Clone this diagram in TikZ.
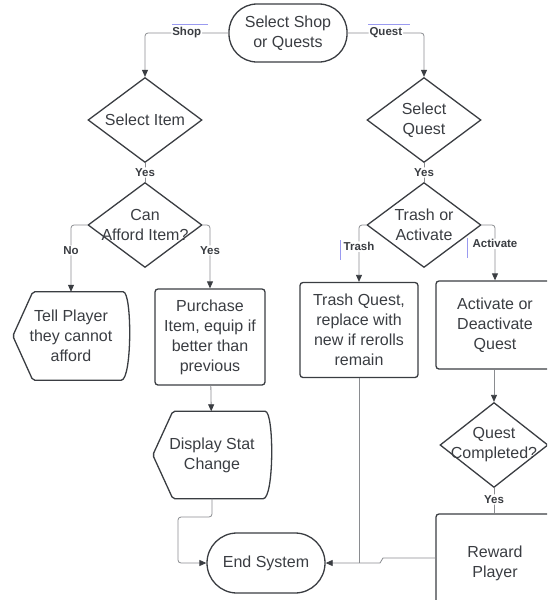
\documentclass[tikz,border=0pt]{standalone}
\usepackage{fontspec}
\setmainfont{Liberation Sans}
\usetikzlibrary{shapes.geometric,arrows.meta}
\usetikzlibrary{positioning}

\definecolor{ink}{HTML}{3A3D42}
\definecolor{wire}{HTML}{8A8C90}
\definecolor{cursor}{HTML}{9A9AF0}

\tikzset{
  every node/.style={text=ink, font=\fontsize{16}{20}\selectfont, align=center},
  terminal/.style={draw=ink, line width=1.3pt, rounded corners=28pt, minimum width=118pt, minimum height=58pt},
  process/.style={draw=ink, line width=1.3pt, rounded corners=3pt, minimum width=116pt, minimum height=94pt},
  decision/.style={draw=ink, line width=1.3pt, diamond, inner sep=0pt, minimum width=114pt, minimum height=85pt},
  shown/.style={minimum width=116pt, minimum height=88pt},
  conn/.style={draw=wire, line width=0.8pt, rounded corners=3pt},
  tip/.style={-{Triangle[length=7pt,width=6pt,color=ink]}},
  lbl/.style={fill=white, font=\bfseries\fontsize{11.5}{13}\selectfont, inner sep=1pt}
}

% outline of a display symbol round a node
\newcommand\dispoutline[1]{%
  \draw[ink, line width=1.3pt, rounded corners=2pt]
    (#1.west) -- ([xshift=20pt]#1.north west) -- ([xshift=-8pt]#1.north east)
    [sharp corners] .. controls ([xshift=3pt]#1.north east) and ([xshift=3pt]#1.south east) ..
    ([xshift=-8pt]#1.south east) [rounded corners=2pt] -- ([xshift=20pt]#1.south west) -- cycle;}

\begin{document}
\begin{tikzpicture}[x=1pt, y=-1pt]
  \clip (0,0) rectangle (547,600);
  \useasboundingbox (0,0) rectangle (547,600);

  % shop side
  \node[terminal] (start) at (288,33) {Select Shop\\or Quests};
  \node[decision, label={center:Select Item}] (selitem) at (145,120) {};
  \node[decision, label={center:Can\\Afford Item?}] (canafford) at (145,225) {};
  \node[shown] (tellplayer) at (71,336) {Tell Player\\they cannot\\afford};
  \dispoutline{tellplayer}
  \node[process, minimum width=110pt, minimum height=96pt] (purchase) at (210,337)
    {Purchase\\Item, equip if\\better than\\previous};
  \node[shown, minimum width=118pt, minimum height=87pt] (display) at (212,455) {Display Stat\\Change};
  \dispoutline{display}
  \node[terminal, minimum height=60pt, rounded corners=30pt] (endsys) at (266,563) {End System};

  % quest side
  \node[decision, label={center:Select\\Quest}] (selquest) at (424,120) {};
  \node[decision, label={center:Trash or\\Activate}] (trashact) at (424,225) {};
  \node[process, minimum width=118pt, minimum height=95pt] (trashq) at (359,330)
    {Trash Quest,\\replace with\\new if rerolls\\remain};
  \node[process, minimum width=118pt, minimum height=88pt] (activate) at (495,325)
    {Activate or\\Deactivate\\Quest};
  \node[decision, minimum width=108pt, minimum height=85pt,
    label={center:Quest\\Completed?}] (questdone) at (494,445) {};
  \node[process, minimum width=118pt, minimum height=98pt] (reward) at (495,563) {Reward\\Player};

  % connectors
  \draw[conn, tip] (start) -| node[lbl, pos=0.25] {Shop} (selitem);
  \draw[conn, tip] (start) -| node[lbl, pos=0.25] {Quest} (selquest);
  \draw[conn] (selitem) -- node[lbl] {Yes} (canafford);
  \draw[conn, tip] (canafford.west) -| node[lbl, pos=0.69] {No} (tellplayer.north);
  \draw[conn, tip] (canafford.east) -| node[lbl, pos=0.7] {Yes} (purchase.north);
  \draw[conn, tip] (purchase) -- (display);
  \draw[conn, tip] (display.south) |- (178,517) |- (endsys.west);
  \draw[conn] (selquest) -- node[lbl] {Yes} (trashact);
  \draw[conn, tip] (trashact.west) -| node[lbl, pos=0.69] {Trash} (trashq.north);
  \draw[conn, tip] (trashact.east) -| node[lbl, pos=0.67] {Activate} (activate.north);
  \draw[conn, tip] (activate.south -| questdone.north) -- (questdone.north);
  \draw[conn] (questdone.south) -- node[lbl, pos=0.45] {Yes} (questdone.south |- reward.north);
  \draw[conn] (trashq.south) -- (trashq.south |- endsys.east);
  \draw[conn, tip, sharp corners] ([yshift=5pt]reward.west) -- (383,558) -- (380,563) -- (endsys.east);

  % selection marks
  \draw[cursor, line width=0.7pt] (172,24) -- (208,24) (368,24) -- (410,24);
  \draw[cursor, line width=0.7pt] (340,240) -- (340,260) (467,238) -- (467,258);
\end{tikzpicture}
\end{document}
